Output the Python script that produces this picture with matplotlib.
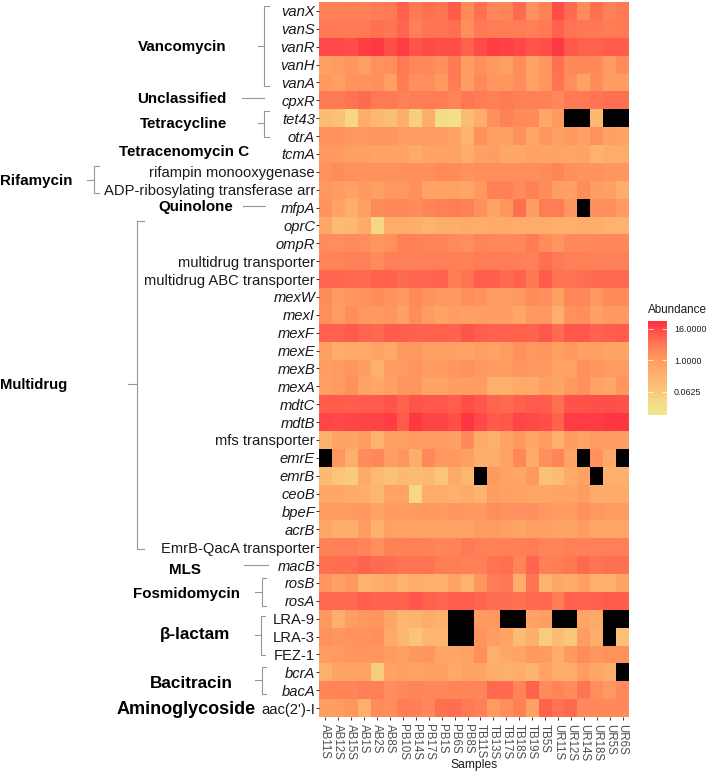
import numpy as np
import matplotlib
matplotlib.use("Agg")
import matplotlib.pyplot as plt
from matplotlib.colors import LinearSegmentedColormap, Normalize

plt.rcParams["font.family"] = ["Liberation Sans", "DejaVu Sans"]

NA = np.nan

samples = ["AB11S", "AB12S", "AB15S", "AB1S", "AB2S", "AB8S", "PB10S", "PB14S",
           "PB17S", "PB1S", "PB6S", "PB8S", "TB11S", "TB13S", "TB17S", "TB18S",
           "TB19S", "TB5S", "UR11S", "UR12S", "UR14S", "UR18S", "UR5S", "UR6S"]

# log2(abundance), top row of the heatmap first
vanX = [1.5, 1.5, 1.6, 1.5, 1.9, 2, 3, 2, 2.4, 2.2, 3.2, 1, 2.4, 1.2, 1.4, 2.6, 0.5, 1.5, 3.8, 2.6, 1, 2.4, 1.5, 2]
vanS = [2, 2, 2, 2, 2.4, 2.2, 2.8, 1.6, 2.2, 2.2, 2.4, 0.8, 2, 1.9, 1.9, 1.9, 1.7, 2, 2.9, 2.3, 2.1, 2.1, 1.8, 2]
vanR = [4, 4, 3.7, 4.4, 4.6, 3.7, 4.5, 3.6, 3.9, 3.8, 3.8, 3, 3.9, 4.4, 4.3, 4, 3.5, 3.7, 4.6, 3.4, 3, 3, 3.2, 3.2]
vanH = [-0.4, 0, 0.3, -0.3, 0.6, 0.8, 2, 1.2, 1.1, 0.7, 2, -0.2, 0.7, 0.1, -0.3, 0.8, -0.6, 0.3, 2.4, 1.1, 1.1, 1.1, 0, 1]
vanA = [0.1, -0.3, 0.5, 0.5, 0.7, -0.3, 1.9, 0.7, 0.8, 0.1, 1.9, -0.2, 1.1, 0.3, 0.3, 0.8, -0.5, 0.3, 2.3, 0.8, -0.4, 0.9, -0.2, -0.2]
cpxR = [2, 2, 2.3, 2.6, 2, 2, 1.6, 1.8, 1.8, 1.8, 1.4, 2.1, 1.9, 1.7, 2, 1.6, 1.6, 1.6, 1.2, 2, 2, 2.2, 2.4, 2.4]
tet43 = [-3, -3.5, -5, -1.5, -2.5, -3.2, -1.5, -4.5, -1.6, -5.5, -6, -2.8, -1.5, 0.7, 1.5, 1, 1, -1, 0.1, NA, NA, -2.5, NA, NA]
otrA = [0.6, 0.5, 0.2, 0.2, 0.3, 0.3, -0.2, 0, 0, 0, -0.5, -2, 0.6, -0.3, -0.3, 0.6, -1, 0.4, -0.3, 0.1, -0.4, 0.6, -0.4, -0.6]
tcmA = [0.1, 0, -0.3, -0.3, -0.5, -0.6, -0.5, -1.3, -0.7, -0.5, -0.7, -1.5, -0.4, -0.2, -1, -1, -0.5, -0.8, -0.8, -0.9, -0.8, -2, -1.4, -1.4]
rifampin = [0.5, 0.9, 0.6, 0.6, 0.6, 0.6, 0.7, 0.7, 0.7, 1, 1, 0.6, 0.8, 0.8, 0.8, 0.8, 0.8, 1, 1.3, 0.7, 0.5, 0.5, 0.4, 0.4]
adp_arr = [0.2, -0.1, -0.5, 0.1, -0.3, 0.2, 0.2, 0.7, -0.5, -0.5, -0.5, -0.9, 0.1, 1.6, 1.7, 1, 1.6, 0.9, -0.2, -0.3, 0.9, -0.1, -0.3, -1.6]
mfpA = [0.5, -0.5, -1.6, -0.3, 1, 1.1, 1.2, 0.9, 1.4, 1.6, 1.9, 1.7, 0.6, -0.8, 0.4, 2.4, -0.2, 1.9, 1.9, 0.3, NA, 0.7, 0.7, 0]
oprC = [-1, -2.8, -2.5, -1.3, -5, -1.4, -1.4, -1.6, -2, -1.6, -1.6, -1.3, -1.4, -1.3, -1.3, -1.5, -1.4, -1.4, -1.7, -1.7, -1.4, -1.6, -2, -2]
ompR = [0.9, 0.8, 1, 0.8, 0.3, 0.6, 1.5, 1.5, 1.4, 1.4, 1, 0.8, 1.3, 1.2, 1.1, 1.2, 1.9, 0.9, 0.4, 1.1, 1.1, 1.2, 1.2, 1.2]
mdr_trans = [1.4, 1.4, 1.6, 1.7, 0.9, 1.7, 1.7, 1.7, 1.7, 1.7, 1.7, 1.7, 1.9, 1.9, 1.9, 1.7, 1.6, 2.4, 2, 1.7, 1.7, 1.7, 1.7, 1.7]
mdr_abc = [2.8, 2.8, 2.7, 2.6, 3, 3, 2.6, 2.8, 2.8, 2.9, 1.8, 2.3, 3.1, 3.1, 2.6, 2.9, 2.1, 3.2, 2.3, 2.3, 2.5, 2.6, 2.7, 2.7]
mexW = [0.9, 0, 0.3, 0.5, 0.9, 0.5, 0.2, 1, 0.5, 0.2, 0.2, 0.8, 0.5, 0, 0, 0.2, 1, 0.7, -0.3, 1.2, 1.2, 0.2, 1, 1]
mexI = [0.8, -0.1, 0.8, 0.2, 0.1, 0.3, -0.4, 0.8, -0.1, -0.8, -0.2, -0.4, -0.2, -0.2, -0.2, -1, 0.1, 0.2, -1.8, 0.6, 0.8, -0.4, 0.1, 0.1]
mexF = [3, 3, 3.3, 2.8, 2.7, 3.2, 3.1, 3, 3, 3, 2.9, 3.5, 3.1, 3, 3, 3, 2.9, 3.4, 2.6, 3.4, 3.4, 2.9, 3.1, 3.2]
mexE = [-0.3, -1.5, -1.3, -1.3, -0.8, -1.1, 0.1, 0.2, -0.3, -0.4, -0.4, -0.6, -0.2, -0.7, -0.1, 0.6, 0.2, 0.3, -0.3, 0.1, -0.4, -0.3, -0.8, -0.8]
mexB = [-0.2, 0, 0.3, -0.2, -1.7, 0, 0, 0.3, 0, 0, 0.4, 0.6, 0.2, -0.1, -0.1, 0.3, 0.2, 0.1, -0.5, -0.5, 0.7, 0.4, 0, 0]
mexA = [-0.4, 0, 0.6, -0.8, -1, -0.4, 0.3, 0.3, -0.8, -0.8, -0.2, -0.2, -0.1, -1.8, -1.8, -1.2, -1.2, -0.3, -0.8, 0.1, 0.7, -0.5, -1, 0.3]
mdtC = [3.2, 3.2, 3.1, 3.3, 3.3, 3.5, 2.9, 3.5, 3.4, 3.4, 3.1, 3.8, 3.4, 2.8, 2.7, 3, 3.3, 3.2, 2.4, 3.6, 3.6, 3.7, 3.8, 3.6]
mdtB = [4.1, 4, 4.1, 4.2, 4.2, 4.4, 3.3, 4.7, 4.2, 4.2, 3.7, 4.8, 4, 3.3, 3.4, 4.1, 4, 3.7, 2.9, 4.5, 4.5, 4.5, 4.8, 4.7]
mfs = [-1.8, -0.7, -0.8, -0.2, -2.1, -0.4, -0.3, 0, 0, 0, -0.4, 1.1, -1.2, -1.8, -0.6, 0.1, -0.9, -0.1, -1.7, 0, -0.5, 0, 0, -0.2]
emrE = [NA, 0.2, -1.8, 0.9, 1.2, -0.2, 0.3, -1.5, 1.2, 0.1, 0.1, -0.3, -1.4, -1.4, -0.6, 1.2, -1.2, 0.7, 1.3, -0.6, NA, 0.5, -1.1, NA]
emrB = [-2.6, -3.6, -4.2, -1.2, -2.8, -3.4, -2.6, -2.8, -2.6, -3.7, -1.3, -2.4, NA, 0.1, -0.5, -0.9, 0.1, -3.5, -3, -1.2, -0.5, NA, -1.8, -1.8]
ceoB = [-1, -1, -1.2, -1.5, -2.4, -0.6, -0.6, -5, -1.4, -1.4, -1.9, -1.2, -2.2, -0.2, -0.4, -0.6, -0.9, -0.9, -0.6, -0.7, -0.1, -1.2, -1.3, -1.3]
bpeF = [0, 0, 0, 0.2, -0.6, 0, 0, 0, 0.1, 0, 0.3, 0.2, 0.1, 0.8, 0.6, 0.5, 0.7, 0.2, 0, 0, 0.6, 0.2, 0, 0]
acrB = [-0.9, -1.5, -1.5, -0.1, -1.9, -0.4, -0.5, -0.5, -0.6, -0.6, -0.6, -0.6, -0.1, -0.1, -0.3, -0.8, -0.3, -0.4, -0.8, -0.8, -0.1, -1, -1, -0.9]
emrb_qaca = [1.5, 1.6, 1.6, 1.3, 0.7, 1.5, 1.5, 1.6, 1.5, 1.4, 1.4, 2, 1.6, 1.5, 1.6, 1.6, 1.8, 1.4, 1.4, 1.7, 1.7, 1.7, 1.6, 1.6]
macB = [2.4, 2.5, 2.5, 2.9, 2.6, 2.5, 2.2, 2.2, 2.3, 1.8, 1.9, 1.7, 1.7, 2.3, 2.4, 1.4, 2.8, 1.7, 1.8, 2.1, 2.7, 2.2, 2.4, 2.4]
rosB = [0.3, -0.4, 0.1, -2, -1.6, -1.1, -2, -1.4, -1.7, -1.8, -0.8, -2.1, 0.4, 1.9, 2.1, -1.5, 2.3, -2, -1, -1.2, -0.4, -1.7, -1.8, -0.6]
rosA = [2.7, 2.7, 2.7, 3.1, 2.9, 2.9, 2.9, 3.4, 3, 2.8, 3.1, 3.1, 2.8, 2.5, 2.5, 2.4, 2.7, 2.7, 1.9, 3, 3, 3, 3.3, 3.2]
lra9 = [0.2, -1.7, -0.1, 0.2, 0.4, -0.9, -2.3, -2.2, -1.4, -1.9, NA, NA, 0, 0.2, NA, NA, -0.5, -0.2, NA, NA, -0.8, -1.1, NA, NA]
lra3 = [0.6, 0.3, 0.5, 0.5, 0.7, -1.1, -2.3, -3.7, -2.3, -2.3, NA, NA, 0.5, -0.2, -0.8, -2.8, -1.6, -4.2, -3, -3.8, -0.1, -1.6, NA, -3.5]
fez1 = [-0.1, 0, 0.4, 0.4, 0.4, 0, -0.3, 0.2, 0.3, -0.9, -0.9, -0.6, 0.7, -1.8, -1, -0.8, 0.1, 0, -1.5, 0.1, 0.9, 0.3, 0.6, 0.6]
bcrA = [-1.8, -0.7, -0.7, -0.5, -4.2, -0.5, -0.3, -0.6, -0.3, -0.4, -1.2, -0.5, -0.8, -1.5, -1.8, -1.5, -2.2, -0.7, -1.5, -1.5, -0.1, -1, -1.6, NA]
bacA = [1.3, 1.3, 1.3, 1.6, 1.7, 0.8, 1.2, 1.3, 1.2, 1.2, 1.3, 1.3, 1.3, 2.7, 2.7, 1.4, 2.9, 1, 1.3, 0.9, 2.2, 0.8, 0.2, 1.1]
aac = [-0.2, -0.1, 0.4, -1.8, 0.9, 0.8, 1.9, 1.6, 1.2, 2.4, 2.5, 2, 1.7, 0, 0.8, 1.5, -0.4, 2.9, 2.3, 2.7, 1.1, 1.1, 1.1, 1.1]

rows = [vanX, vanS, vanR, vanH, vanA, cpxR, tet43, otrA, tcmA, rifampin, adp_arr, mfpA,
        oprC, ompR, mdr_trans, mdr_abc, mexW, mexI, mexF, mexE, mexB, mexA, mdtC, mdtB,
        mfs, emrE, emrB, ceoB, bpeF, acrB, emrb_qaca, macB, rosB, rosA, lra9, lra3, fez1,
        bcrA, bacA, aac]
genes = ["vanX", "vanS", "vanR", "vanH", "vanA", "cpxR", "tet43", "otrA", "tcmA",
         "rifampin monooxygenase", "ADP-ribosylating transferase arr", "mfpA", "oprC", "ompR",
         "multidrug transporter", "multidrug ABC transporter", "mexW", "mexI", "mexF", "mexE",
         "mexB", "mexA", "mdtC", "mdtB", "mfs transporter", "emrE", "emrB", "ceoB", "bpeF",
         "acrB", "EmrB-QacA transporter", "macB", "rosB", "rosA", "LRA-9", "LRA-3", "FEZ-1",
         "bcrA", "bacA", "aac(2')-I"]
plain_genes = ["rifampin monooxygenase", "ADP-ribosylating transferase arr",
               "multidrug transporter", "multidrug ABC transporter", "mfs transporter",
               "EmrB-QacA transporter", "LRA-9", "LRA-3", "FEZ-1", "aac(2')-I"]
legend_ticks = [4, 0, -4]
legend_labels = ["16.0000", "1.0000", "0.0625"]

W, H = 709, 771


def px_axes(x0, y0, x1, y1):
    return fig.add_axes([x0 / W, 1 - y1 / H, (x1 - x0) / W, (y1 - y0) / H])


def bracket(x, top, bottom, stem_y, stem_x, tip_x):
    overlay.plot([tip_x, x, x, tip_x], [top, top, bottom, bottom], color="#969696", lw=0.8)
    overlay.plot([stem_x, x], [stem_y, stem_y], color="#969696", lw=0.8)


fig = plt.figure(figsize=(W / 100, H / 100), dpi=100)

cmap = LinearSegmentedColormap.from_list(
    "abund",
    [(0, "#F0E68C"), (1.5 / 12, "#F3DD88"), (3.5 / 12, "#FBC276"), (6.7 / 12, "#FFA063"),
     (9 / 12, "#FF7A54"), (1, "#FF3040")])
cmap.set_bad("black")
norm = Normalize(-7, 5)

ax = px_axes(319, 2, 629, 717)
values = np.ma.masked_invalid(np.array(rows, dtype=float))
mesh = ax.pcolormesh(values, cmap=cmap, norm=norm, antialiased=False, linewidth=0)
ax.invert_yaxis()
for s in ax.spines.values():
    s.set_visible(False)
ax.set_xticks(np.arange(len(samples)) + 0.5)
ax.set_xticklabels(samples, rotation=270, fontsize=8.3, color="#4d4d4d")
ax.set_yticks(np.arange(len(genes)) + 0.5)
ax.set_yticklabels(genes, fontsize=10.65, color="#1a1a1a")
for lab in ax.get_yticklabels():
    if lab.get_text() not in plain_genes:
        lab.set_style("italic")
ax.tick_params(axis="both", length=2.2, width=0.7, color="#333333", pad=0.6)
ax.tick_params(axis="x", pad=2.5)

cax = px_axes(648, 321, 667, 415)
cb = fig.colorbar(mesh, cax=cax, ticks=legend_ticks)
cb.ax.set_yticklabels(legend_labels, fontsize=6.4, color="#1a1a1a")
cb.outline.set_visible(False)
cax.tick_params(axis="y", direction="in", left=True, right=True, length=3.5, width=0.5,
                color="white", pad=5)

overlay = fig.add_axes([0, 0, 1, 1], zorder=-1)
overlay.set_xlim(0, W)
overlay.set_ylim(H, 0)
overlay.axis("off")

bracket(264, 6, 86, 46, 258, 269)
overlay.plot([242, 264], [98, 98], color="#969696", lw=0.8)
bracket(264, 111, 137, 123, 258, 269)
bracket(94, 166, 193, 180, 87, 99)
overlay.plot([243, 265], [206, 206], color="#969696", lw=0.8)
bracket(137, 221, 549, 384, 128, 144)
overlay.plot([244, 268], [565, 565], color="#969696", lw=0.8)
bracket(262, 578, 606, 592, 255, 266)
bracket(261, 616, 655, 635, 255, 265)
bracket(262, 667, 694, 680, 255, 266)

bold = dict(fontweight="bold", ha="center", va="center", color="black")
overlay.text(182, 47, "Vancomycin", fontsize=10.9, **bold)
overlay.text(182, 99, "Unclassified", fontsize=10.9, **bold)
overlay.text(184, 124, "Tetracycline", fontsize=10.9, **bold)
overlay.text(184, 152, "Tetracenomycin C", fontsize=10.9, **bold)
overlay.text(36, 181, "Rifamycin", fontsize=10.9, **bold)
overlay.text(196, 207, "Quinolone", fontsize=10.9, **bold)
overlay.text(34, 385, "Multidrug", fontsize=10.7, **bold)
overlay.text(185, 570, "MLS", fontsize=10.9, **bold)
overlay.text(186, 594, "Fosmidomycin", fontsize=10.9, **bold)
overlay.text(195, 634, "β-lactam", fontsize=12.3, **bold)
overlay.text(191, 683, "Bacitracin", fontsize=12.3, **bold)
overlay.text(186, 710, "Aminoglycoside", fontsize=13, **bold)

overlay.text(474, 765, "Samples", fontsize=8.7, ha="center", va="center", color="#1a1a1a")
overlay.text(648, 310, "Abundance", fontsize=8.4, ha="left", va="center", color="#1a1a1a")

fig.savefig("out.png", dpi=100)
